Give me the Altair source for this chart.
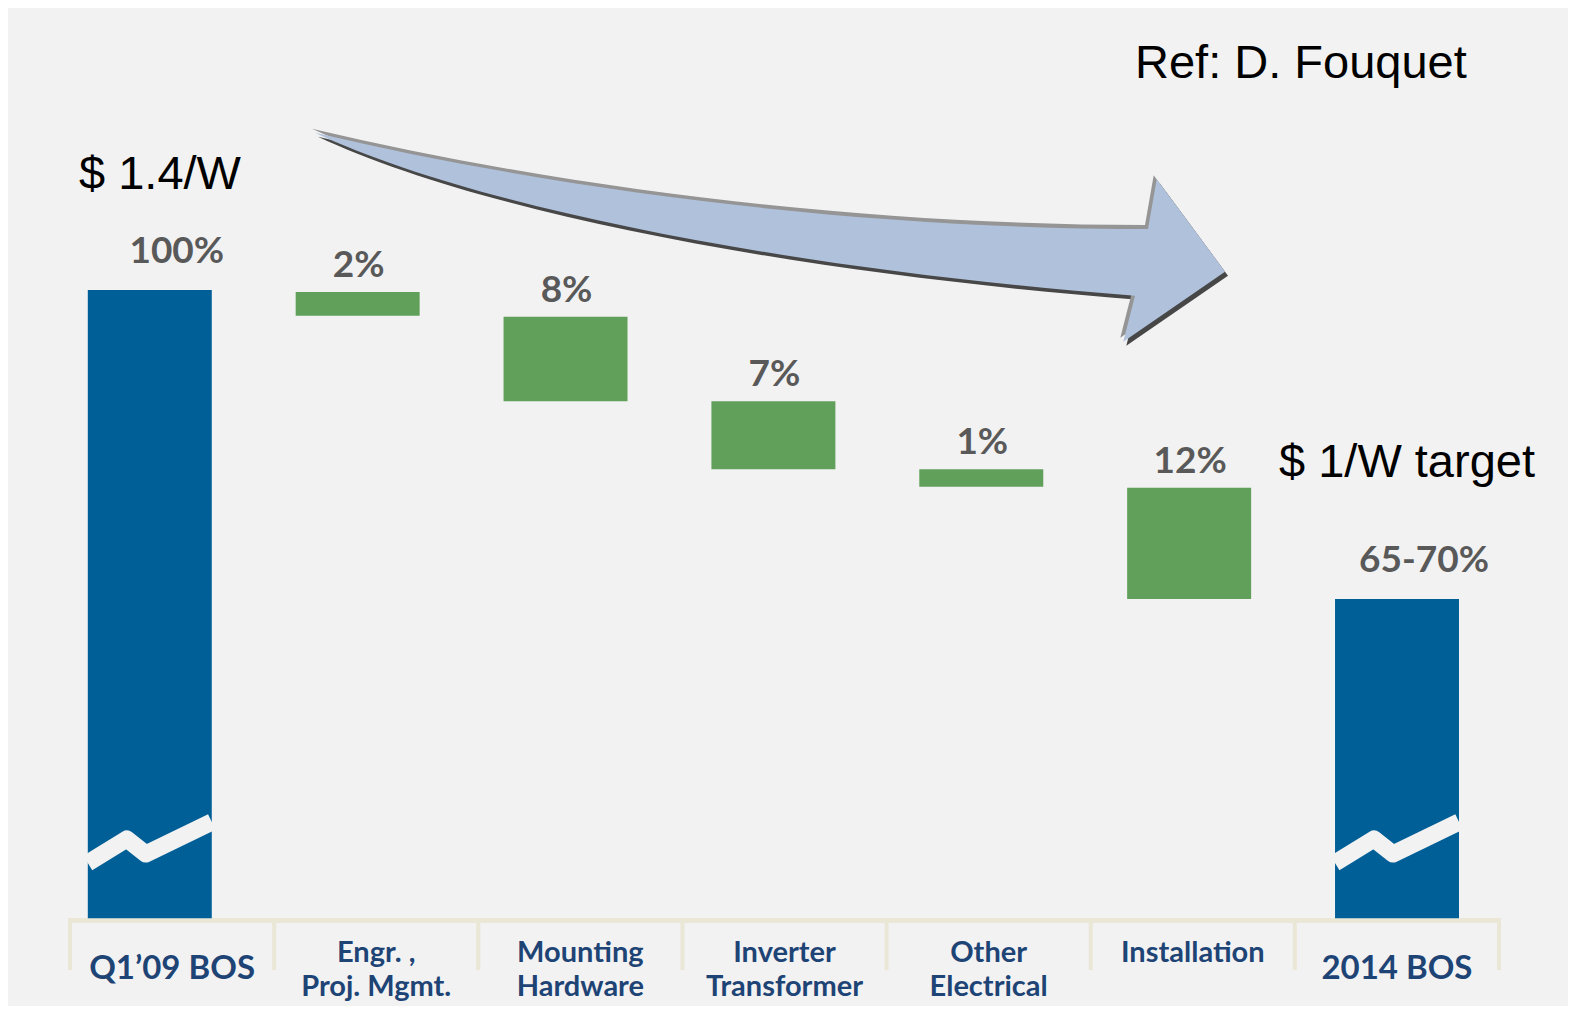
import altair as alt
import pandas as pd

# ---------------- data ----------------
categories = ["Q1'09 BOS", "Engr., Proj. Mgmt.", "Mounting Hardware",
              "Inverter Transformer", "Other Electrical", "Installation", "2014 BOS"]
category_labels = ["Q1’09 BOS", "Engr. ,|Proj. Mgmt.", "Mounting|Hardware",
                   "Inverter|Transformer", "Other|Electrical", "Installation", "2014 BOS"]
kinds = ["total", "change", "change", "change", "change", "change", "total"]
# bar extents in % of Q1'09 BOS cost (axis is broken below ~39 %)
bar_top = [100.0, 99.8, 97.4, 89.2, 82.6, 80.8, 70.0]
bar_bottom = [39.0, 97.5, 89.2, 82.6, 80.9, 70.0, 39.0]
pct_labels = ["100%", "2%", "8%", "7%", "1%", "12%", "65-70%"]

df = pd.DataFrame({
    "cat": categories, "label": category_labels, "kind": kinds,
    "top": bar_top, "bottom": bar_bottom, "pct": pct_labels,
})
one = pd.DataFrame({"k": [0]})

# ---------------- layout / styles ----------------
W, H = 1560, 998
PX_PER_PCT = 10.3
Y100 = 282  # pixel row of the 100 % level
y_scale = alt.Scale(domain=[100 - (H - Y100) / PX_PER_PCT, 100 + Y100 / PX_PER_PCT],
                    nice=False, zero=False)
bar_scale = alt.Scale(type="band", domain=categories, range=[79.8, 1451],
                      paddingInner=0.4036, paddingOuter=0)
lab_scale = alt.Scale(type="band", domain=categories, range=[62, 1491],
                      paddingInner=0, paddingOuter=0)

BG = "#f2f2f2"
BEIGE = "#ebe7d6"
BLUE = "#005f96"
GREEN = "#61a05a"
LABEL_GRAY = "#595959"
CAT_BLUE = "#1e4476"

# separators under the categories
hline = alt.Chart(one).mark_rule(color=BEIGE, strokeWidth=5).encode(
    x=alt.value(62), x2=alt.value(1491), y=alt.value(912.5))
ticks = alt.Chart(df).mark_rule(color=BEIGE, strokeWidth=4).encode(
    x=alt.X("cat:N", bandPosition=0, scale=lab_scale, axis=None),
    y=alt.value(910), y2=alt.value(962))
end_tick = alt.Chart(df).transform_filter(
    alt.datum.cat == categories[-1]).mark_rule(color=BEIGE, strokeWidth=4).encode(
    x=alt.X("cat:N", bandPosition=1, scale=lab_scale, axis=None),
    y=alt.value(910), y2=alt.value(962))

bars = alt.Chart(df).mark_bar().encode(
    x=alt.X("cat:N", scale=bar_scale, axis=None),
    y=alt.Y("top:Q", scale=y_scale, axis=None),
    y2="bottom:Q",
    color=alt.Color("kind:N", scale=alt.Scale(domain=["total", "change"], range=[BLUE, GREEN]),
                    legend=None),
)

# axis-break zig-zag on the two total bars
zig_path = "M -62 21 L -23 -3 L -4 12 L 62 -20"
zigzag = alt.Chart(df).transform_filter(alt.datum.kind == "total").mark_point(
    shape=zig_path, size=4, filled=False, stroke=BG, strokeWidth=17, opacity=1,
    strokeJoin="round").encode(
    x=alt.X("cat:N", scale=bar_scale, axis=None), y=alt.value(834))

pct_total = alt.Chart(df).transform_filter(alt.datum.kind == "total").mark_text(
    font="Lato", fontWeight="bold", fontSize=37, color=LABEL_GRAY, dy=-27, dx=27,
    baseline="alphabetic", align="center").encode(
    x=alt.X("cat:N", scale=bar_scale, axis=None),
    y=alt.Y("top:Q", scale=y_scale, axis=None), text="pct:N")
pct_change = alt.Chart(df).transform_filter(alt.datum.kind == "change").mark_text(
    font="Lato", fontWeight="bold", fontSize=37, color=LABEL_GRAY, dy=-15, dx=1,
    baseline="alphabetic", align="center").encode(
    x=alt.X("cat:N", scale=bar_scale, axis=None),
    y=alt.Y("top:Q", scale=y_scale, axis=None), text="pct:N")

cat_total = alt.Chart(df).transform_filter(alt.datum.kind == "total").mark_text(
    font="Lato", fontWeight="bold", fontSize=33, color=CAT_BLUE,
    baseline="alphabetic", align="center").encode(
    x=alt.X("cat:N", scale=lab_scale, axis=None), y=alt.value(971), text="label:N")
cat_change = alt.Chart(df).transform_filter(alt.datum.kind == "change").mark_text(
    font="Lato", fontWeight="bold", fontSize=29, color=CAT_BLUE, lineBreak="|",
    lineHeight=34, baseline="alphabetic", align="center").encode(
    x=alt.X("cat:N", scale=lab_scale, axis=None), y=alt.value(954), text="label:N")

ann_start = alt.Chart(one).mark_text(
    text="$ 1.4/W", font="Liberation Sans", fontSize=47, color="black",
    align="left", baseline="alphabetic").encode(x=alt.value(71), y=alt.value(181))
ann_target = alt.Chart(one).mark_text(
    text="$ 1/W target", font="Liberation Sans", fontSize=47, color="black",
    align="left", baseline="alphabetic").encode(x=alt.value(1271), y=alt.value(469))
ann_ref = alt.Chart(one).mark_text(
    text="Ref: D. Fouquet", font="Liberation Sans", fontSize=47, color="black",
    align="left", baseline="alphabetic").encode(x=alt.value(1127), y=alt.value(70))

# decorative curved arrow
arrow_path = ("M 307 124.7 C 592 192 892 221 1140 221 "
              "L 1148.7 171.3 L 1217 263.7 L 1115.3 333.7 L 1127 287.7 "
              "C 792 262 472 202 307 124.7 Z")
arrow_dark = alt.Chart(one).mark_point(
    shape=arrow_path, size=4, filled=True, color="#474747", opacity=1).encode(
    x=alt.value(3), y=alt.value(4))
arrow_gray = alt.Chart(one).mark_point(
    shape=arrow_path, size=4, filled=True, color="#959595", opacity=1).encode(
    x=alt.value(-3), y=alt.value(-4))
arrow_main = alt.Chart(one).mark_point(
    shape=arrow_path, size=4, filled=True, color="#b0c1dc", opacity=1).encode(
    x=alt.value(0), y=alt.value(0))

chart = alt.layer(
    hline, ticks, end_tick, bars, zigzag, pct_total, pct_change, cat_total, cat_change,
    ann_start, ann_target, ann_ref, arrow_dark, arrow_gray, arrow_main,
).resolve_scale(x="independent").properties(
    width=W, height=H, autosize=alt.AutoSizeParams(type="none"), padding=0,
    background=BG,
).configure_view(stroke="transparent")

chart.save("out.html", embed_options={"renderer": "svg", "actions": False})
